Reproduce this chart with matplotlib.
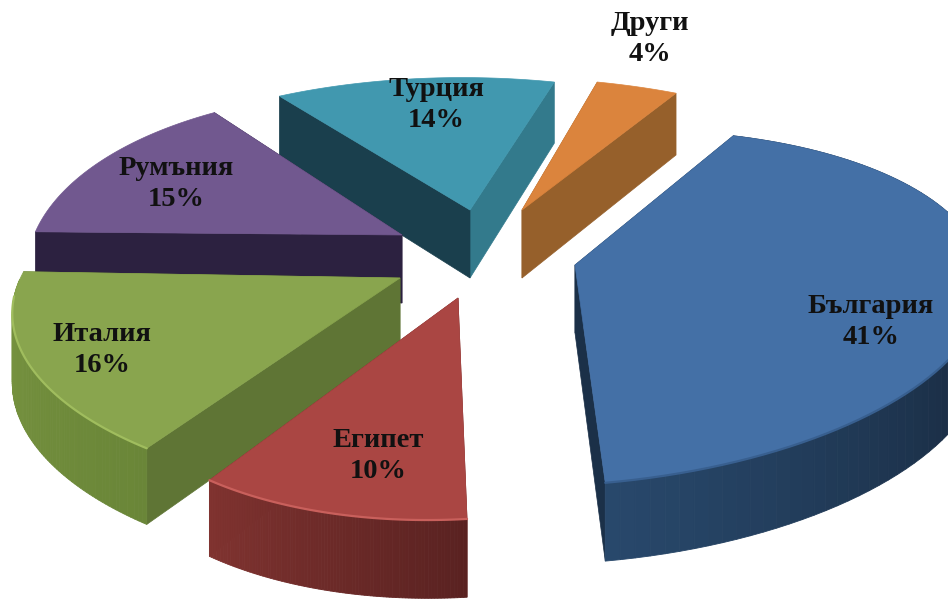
import numpy as np
import matplotlib
matplotlib.use("Agg")
from matplotlib import pyplot as plt
from matplotlib.patches import Polygon
from matplotlib.colors import to_rgb

labels = ["България", "Други", "Турция", "Румъния", "Италия", "Египет"]
values = [41, 4, 14, 15, 16, 10]

top_colors = ["#4470a6", "#db843d", "#4198af", "#71588f", "#89a54e", "#aa4643"]
wall_light = ["#28486b", "#96602b", "#1a3f4d", "#2c2140", "#7a9641", "#803330"]
wall_dark = ["#1b2f47", "#96602b", "#1a3f4d", "#2c2140", "#6a8638", "#5a2221"]
rim_colors = ["#385f8f", None, None, None, "#a0bd5e", "#c9605c"]
cut_start = ["#1b3048", "#96602b", "#337a8c", "#2c2140", "#5f7535", "#6f2a28"]
cut_end = ["#1b3048", "#96602b", "#1a3f4d", "#2c2140", "#5f7535", "#6f2a28"]

# layout of the fake 3d pie, in pixels
cx, cy = 474, 252
R, S, p = 365, 165, 0.246
D = 68
start = 59
explode_x = [101, 48, -4, -72, -74, -16]
explode_y = [13, -42, -42, -17, 26, 46]
# each slice gets its own little warp: x' = a x + b y, y' = c x + d y
warp_a = [1.08, 1.09, 1.09, 1.012, 1.04, 0.95]
warp_b = [0.08, 0.13, 0.06, 0.15, 0.10, -0.01]
warp_c = [-0.08, 0, 0, -0.01, 0, -0.038]
warp_d = [1.0, 1.0, 1.0, 1.09, 1.0, 1.012]
label_x = [871, 650, 436, 176, 102, 378]
label_y = [322, 39, 105, 184, 350, 456]
draw_order = [1, 2, 3, 0, 4, 5]


def project(t):
    X, Y = np.cos(t), np.sin(t)
    w = 1 + p * Y
    return R * X / w, -S * Y / w, w


def depth(w):
    return D / np.sqrt(w)


fig = plt.figure(figsize=(9.48, 6), dpi=100)
ax = fig.add_axes([0, 0, 1, 1])
ax.set_xlim(0, 948)
ax.set_ylim(600, 0)
ax.axis("off")

# Bulgaria sits clockwise of the start angle, the rest go on round the back
a = start
spans = [(a - values[0] * 3.6, a)]
for v in values[1:]:
    spans.append((a, a + v * 3.6))
    a += v * 3.6

for i in draw_order:
    a0, a1 = np.radians(spans[i])
    t = np.linspace(a0, a1, 90)
    ax0 = cx + explode_x[i]
    ay0 = cy + explode_y[i]
    x, y, w = project(t)
    px = ax0 + warp_a[i] * x + warp_b[i] * y
    py = ay0 + warp_c[i] * x + warp_d[i] * y
    d = depth(w)

    # cut faces
    for k, col in ((0, cut_start[i]), (-1, cut_end[i])):
        quad = [(ax0, ay0), (px[k], py[k]), (px[k], py[k] + d[k]), (ax0, ay0 + D)]
        ax.add_patch(Polygon(quad, closed=True, fc=col, ec=col, lw=0.5))

    # outer wall, shaded strip by strip
    c0 = np.array(to_rgb(wall_light[i]))
    c1 = np.array(to_rgb(wall_dark[i]))
    for k in range(len(t) - 1):
        if np.sin(t[k]) > 0.0 and i != 0:
            continue
        f = k / (len(t) - 2)
        if i == 5 or i == 4:
            col = c0 * (1 - f) + c1 * f
        else:
            f = min(f * 3, 1)
            col = c0 * (1 - f) + c1 * f
        quad = [(px[k], py[k]), (px[k + 1], py[k + 1]),
                (px[k + 1], py[k + 1] + d[k + 1]), (px[k], py[k] + d[k])]
        ax.add_patch(Polygon(quad, closed=True, fc=col, ec=col, lw=0.6))

    # top face
    top = np.column_stack([np.r_[ax0, px], np.r_[ay0, py]])
    ax.add_patch(Polygon(top, closed=True, fc=top_colors[i], ec=top_colors[i], lw=0.5))

    # soft rim along the front of the top face
    if rim_colors[i] is not None:
        front = np.sin(t) < -0.1
        ax.plot(px[front], py[front], color=rim_colors[i], lw=1.6, solid_capstyle="round")

    ax.text(label_x[i], label_y[i], labels[i] + "\n" + str(values[i]) + "%",
            ha="center", va="center", fontsize=20.5, fontweight="bold",
            family="Liberation Serif", color="#111111", linespacing=1.3)

fig.savefig("out.png", dpi=100)
